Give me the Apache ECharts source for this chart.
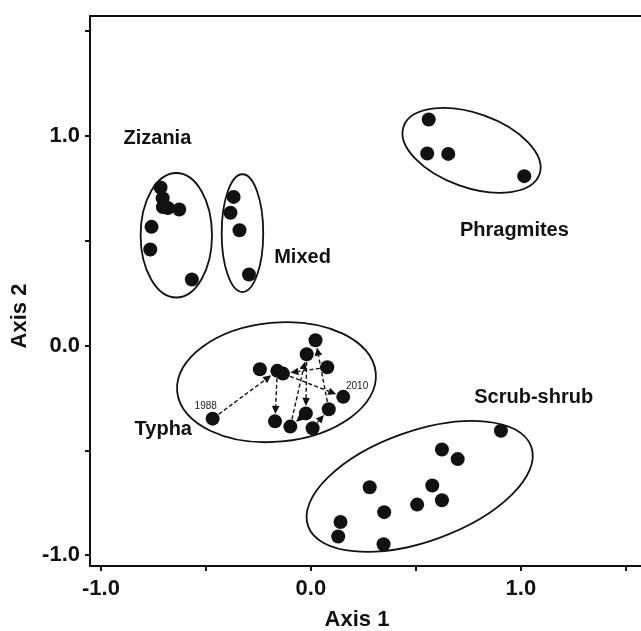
<!DOCTYPE html>
<html>
<head>
<meta charset="utf-8">
<script src="https://cdn.jsdelivr.net/npm/echarts@6/dist/echarts.min.js"></script>
<style>
html,body{margin:0;padding:0;background:#fff;}
#chart{width:641px;height:631px;}
</style>
</head>
<body>
<div id="chart"></div>
<script>
// ---- Data ----
const xTicks = [-1.0, -0.5, 0.0, 0.5, 1.0, 1.5];
const xLabels = [-1.0, 0.0, 1.0];
const yTicks = [-1.0, -0.5, 0.0, 0.5, 1.0, 1.5];
const yLabels = [-1.0, 0.0, 1.0];

const zizania = [[-0.716,0.754],[-0.706,0.703],[-0.705,0.661],[-0.681,0.656],[-0.627,0.649],[-0.759,0.566],[-0.765,0.458],[-0.567,0.315]];
const mixed = [[-0.368,0.709],[-0.383,0.633],[-0.340,0.550],[-0.295,0.339]];
const phragmites = [[0.561,1.078],[0.554,0.916],[0.654,0.914],[1.016,0.808]];
const scrubShrub = [[0.905,-0.407],[0.624,-0.496],[0.699,-0.542],[0.280,-0.676],[0.578,-0.668],[0.624,-0.738],[0.506,-0.759],[0.349,-0.795],[0.141,-0.842],[0.130,-0.911],[0.346,-0.948]];
// Typha trajectory points
const typha = [[-0.468,-0.349],[-0.243,-0.113],[-0.160,-0.121],[-0.133,-0.134],[0.022,0.025],[-0.020,-0.042],[0.078,-0.104],[0.154,-0.245],[-0.171,-0.362],[-0.098,-0.387],[-0.024,-0.324],[0.008,-0.395],[0.085,-0.304]];
// arrows between typha points [from, to]
const typhaArrows = [[0,2],[2,8],[9,5],[5,10],[10,9],[11,12],[12,4],[6,3],[3,7]];

// ellipses: [cx, cy, semiAxisX, semiAxisY, angleDeg]
const ellipses = [
  [-0.641,0.526,0.170,0.297,0],
  [-0.326,0.536,0.099,0.281,0],
  [0.765,0.931,0.343,0.177,-19.4],
  [-0.164,-0.175,0.475,0.284,5.4],
  [0.518,-0.672,0.564,0.263,19.6]
];

const groupLabels = [
  {name:'Zizania', value:[-0.731,0.990]},
  {name:'Mixed', value:[-0.040,0.420]},
  {name:'Phragmites', value:[0.969,0.548]},
  {name:'Typha', value:[-0.703,-0.399]},
  {name:'Scrub-shrub', value:[1.061,-0.248]}
];
const yearLabels = [
  {name:'1988', value:[-0.501,-0.292]},
  {name:'2010', value:[0.220,-0.194]}
];

const FONT = "'Liberation Sans', Arial, Helvetica, sans-serif";
const INK = '#111111';

const chart = echarts.init(document.getElementById('chart'), null, {renderer:'canvas'});

function dotSeries(name, data){
  return {type:'scatter', name, data, symbol:'circle', symbolSize:14,
    itemStyle:{color:INK, opacity:1}, z:5, silent:true};
}

const arrowData = typhaArrows.map(([a,b]) => [typha[a][0], typha[a][1], typha[b][0], typha[b][1]]);

const X_MIN = -1.052, X_MAX = 1.572, Y_MIN = -1.052, Y_MAX = 1.572;

const option = {
  animation:false,
  backgroundColor:'#fff',
  grid:{left:90, top:16, right:0, bottom:65, show:false, containLabel:false},
  xAxis:[
    {type:'value', min:X_MIN, max:X_MAX, position:'bottom',
      axisLine:{show:true, onZero:false, lineStyle:{color:INK, width:2}}, splitLine:{show:false},
      axisTick:{show:true, length:5, inside:false, customValues:xTicks, lineStyle:{color:INK, width:2}},
      axisLabel:{show:true, customValues:xLabels, margin:12, formatter:v=>v.toFixed(1),
        color:INK, fontFamily:FONT, fontWeight:'bold', fontSize:22}
    },
    {type:'value', min:X_MIN, max:X_MAX, position:'top',
      axisLine:{show:true, onZero:false, lineStyle:{color:INK, width:2}}, splitLine:{show:false},
      axisTick:{show:false}, axisLabel:{show:false}
    }
  ],
  yAxis:{type:'value', min:Y_MIN, max:Y_MAX, position:'left',
    axisLine:{show:true, onZero:false, lineStyle:{color:INK, width:2}}, splitLine:{show:false},
    axisTick:{show:true, length:5, inside:false, customValues:yTicks, lineStyle:{color:INK, width:2}},
    axisLabel:{show:true, customValues:yLabels, margin:10, formatter:v=>v.toFixed(1),
      color:INK, fontFamily:FONT, fontWeight:'bold', fontSize:22}
  },
  graphic:[
    {type:'text', x:357, y:620, style:{text:'Axis 1', font:'bold 22px '+FONT, fill:INK, textAlign:'center', textVerticalAlign:'middle'}},
    {type:'text', x:20, y:316, rotation:Math.PI/2, style:{text:'Axis 2', font:'bold 22px '+FONT, fill:INK, textAlign:'center', textVerticalAlign:'middle'}}
  ],
  series:[
    {type:'custom', name:'ellipses', data:ellipses, silent:true, z:2,
      encode:{x:0, y:1},
      renderItem:function(params, api){
        const c = api.coord([api.value(0), api.value(1)]);
        const sz = api.size([api.value(2), api.value(3)]);
        return {type:'ellipse', x:c[0], y:c[1], rotation:api.value(4)*Math.PI/180,
          shape:{cx:0, cy:0, rx:sz[0], ry:sz[1]},
          style:{fill:'none', stroke:INK, lineWidth:1.8}};
      }
    },
    {type:'custom', name:'arrows', data:arrowData, silent:true, z:3,
      encode:{x:[0,2], y:[1,3]},
      renderItem:function(params, api){
        const p1 = api.coord([api.value(0), api.value(1)]);
        const p2 = api.coord([api.value(2), api.value(3)]);
        const dx = p2[0]-p1[0], dy = p2[1]-p1[1];
        const L = Math.hypot(dx, dy) || 1;
        const ux = dx/L, uy = dy/L;
        const r = 7.5, head = 8, hw = 3.8;
        const s = [p1[0]+ux*r, p1[1]+uy*r];
        const e = [p2[0]-ux*r, p2[1]-uy*r];
        const b = [e[0]-ux*head, e[1]-uy*head];
        return {type:'group', children:[
          {type:'line', shape:{x1:s[0], y1:s[1], x2:b[0], y2:b[1]}, style:{stroke:INK, lineWidth:1.4, lineDash:[4,2.5]}},
          {type:'polygon', shape:{points:[e, [b[0]-uy*hw, b[1]+ux*hw], [b[0]+uy*hw, b[1]-ux*hw]]}, style:{fill:INK}}
        ]};
      }
    },
    dotSeries('Zizania', zizania),
    dotSeries('Mixed', mixed),
    dotSeries('Phragmites', phragmites),
    dotSeries('Scrub-shrub', scrubShrub),
    dotSeries('Typha', typha),
    {type:'scatter', name:'groupLabels', data:groupLabels, symbolSize:0, silent:true, z:6,
      itemStyle:{opacity:1},
      label:{show:true, position:'inside', formatter:'{b}', color:INK, opacity:1, fontFamily:FONT, fontWeight:'bold', fontSize:20}},
    {type:'scatter', name:'yearLabels', data:yearLabels, symbolSize:0, silent:true, z:6,
      itemStyle:{opacity:1},
      label:{show:true, position:'inside', formatter:'{b}', color:'#222', opacity:1, fontFamily:FONT, fontWeight:'normal', fontSize:10}}
  ]
};
chart.setOption(option);
</script>
</body>
</html>
